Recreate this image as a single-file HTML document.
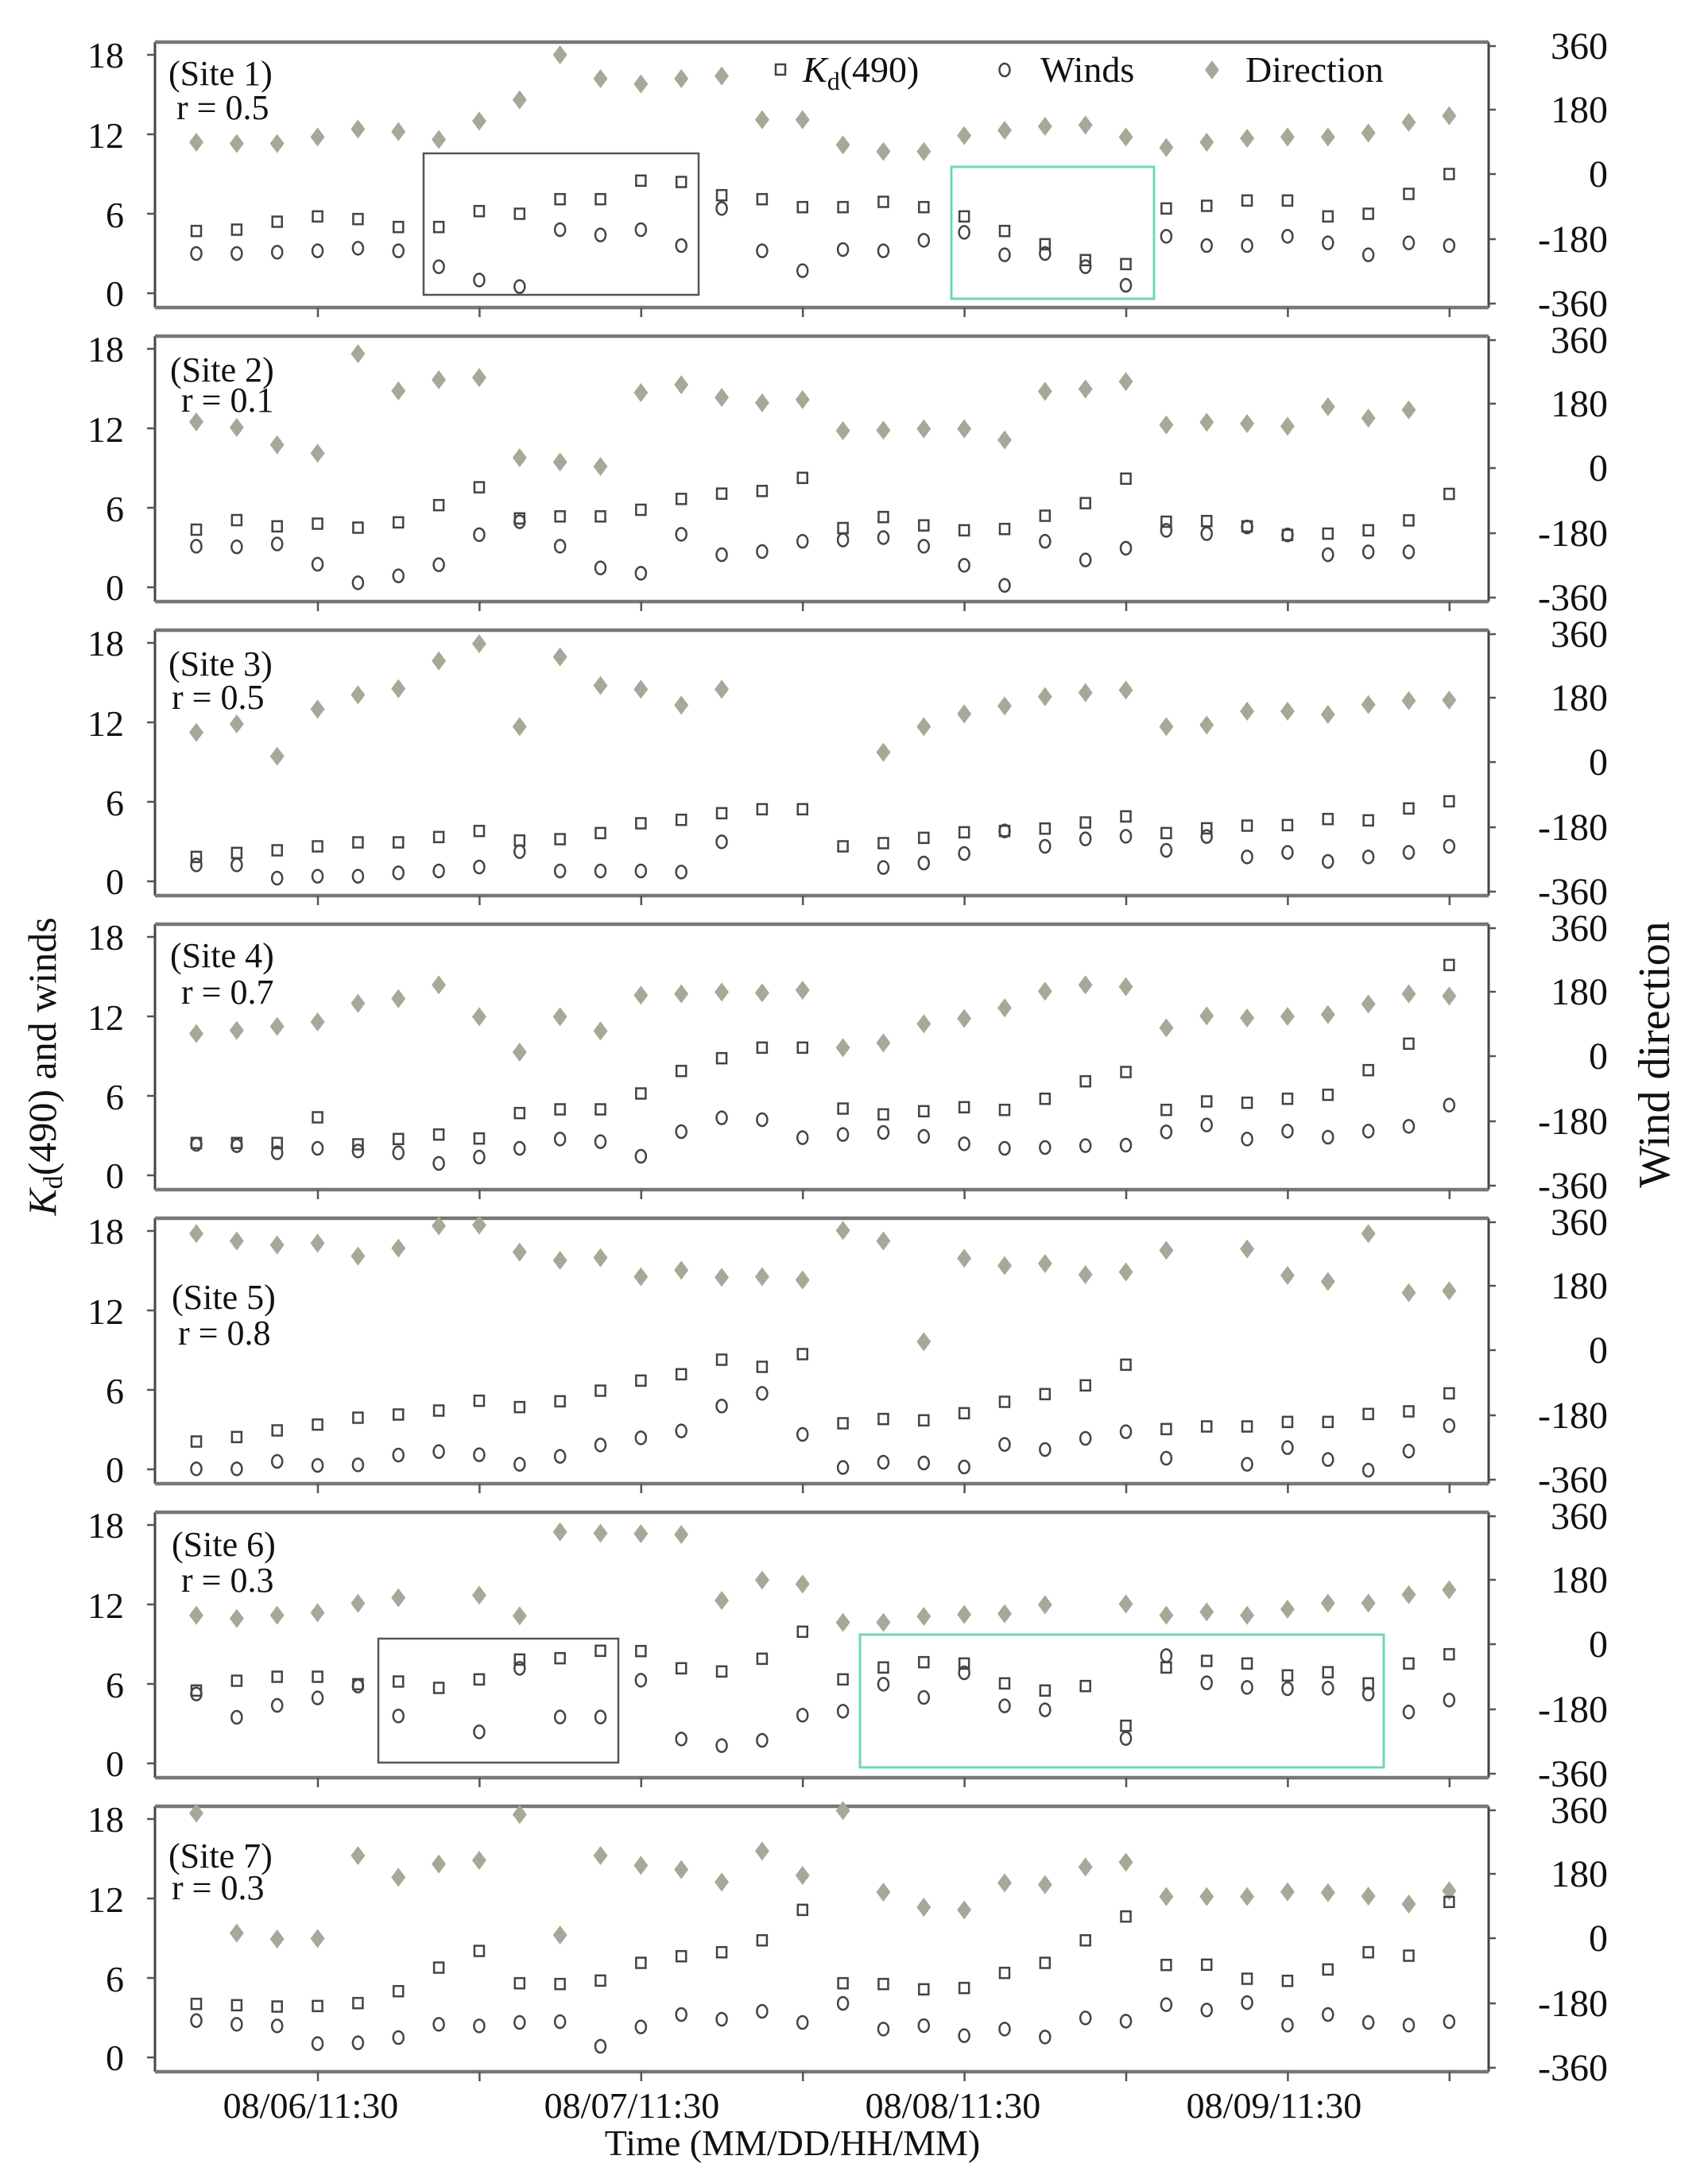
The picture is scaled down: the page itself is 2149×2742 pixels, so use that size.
<!DOCTYPE html>
<html><head><meta charset="utf-8"><style>
html,body{margin:0;padding:0;background:#fff;}
svg{display:block;}
text{font-family:"Liberation Serif",serif;fill:#111;}
</style></head><body>
<svg id="s" width="2149" height="2742" viewBox="0 0 2149 2742" xmlns="http://www.w3.org/2000/svg">
<rect width="2149" height="2742" fill="#fff"/>
<g stroke="#444" stroke-width="3" fill="none">
<path d="M195 53V387M1873 53V387M195 423V757M1873 423V757M195 793V1127M1873 793V1127M195 1163V1497M1873 1163V1497M195 1533V1867M1873 1533V1867M195 1903V2237M1873 1903V2237M195 2273V2607M1873 2273V2607"/>
</g>
<g stroke="#777" stroke-width="4.5" fill="none">
<path d="M195 53H1873M195 387H1873M195 423H1873M195 757H1873M195 793H1873M195 1127H1873M195 1163H1873M195 1497H1873M195 1533H1873M195 1867H1873M195 1903H1873M195 2237H1873M195 2273H1873M195 2607H1873"/>
</g>
<g id="frames"></g>
<g id="marks"></g>
<g font-size="46" text-anchor="end">
<text x="156" y="85">18</text><text x="156" y="186">12</text><text x="156" y="286">6</text><text x="156" y="385">0</text>
<text x="156" y="455">18</text><text x="156" y="556">12</text><text x="156" y="656">6</text><text x="156" y="755">0</text>
<text x="156" y="825">18</text><text x="156" y="926">12</text><text x="156" y="1026">6</text><text x="156" y="1125">0</text>
<text x="156" y="1195">18</text><text x="156" y="1296">12</text><text x="156" y="1396">6</text><text x="156" y="1495">0</text>
<text x="156" y="1565">18</text><text x="156" y="1666">12</text><text x="156" y="1766">6</text><text x="156" y="1865">0</text>
<text x="156" y="1935">18</text><text x="156" y="2036">12</text><text x="156" y="2136">6</text><text x="156" y="2235">0</text>
<text x="156" y="2305">18</text><text x="156" y="2406">12</text><text x="156" y="2506">6</text><text x="156" y="2605">0</text>
</g>
<g font-size="48" text-anchor="end">
<text x="2023" y="74">360</text><text x="2023" y="154">180</text><text x="2023" y="235">0</text><text x="2023" y="317">-180</text><text x="2023" y="398">-360</text>
<text x="2023" y="444">360</text><text x="2023" y="524">180</text><text x="2023" y="605">0</text><text x="2023" y="687">-180</text><text x="2023" y="768">-360</text>
<text x="2023" y="814">360</text><text x="2023" y="894">180</text><text x="2023" y="975">0</text><text x="2023" y="1057">-180</text><text x="2023" y="1138">-360</text>
<text x="2023" y="1184">360</text><text x="2023" y="1264">180</text><text x="2023" y="1345">0</text><text x="2023" y="1427">-180</text><text x="2023" y="1508">-360</text>
<text x="2023" y="1554">360</text><text x="2023" y="1634">180</text><text x="2023" y="1715">0</text><text x="2023" y="1797">-180</text><text x="2023" y="1878">-360</text>
<text x="2023" y="1924">360</text><text x="2023" y="2004">180</text><text x="2023" y="2085">0</text><text x="2023" y="2167">-180</text><text x="2023" y="2248">-360</text>
<text x="2023" y="2294">360</text><text x="2023" y="2374">180</text><text x="2023" y="2455">0</text><text x="2023" y="2537">-180</text><text x="2023" y="2618">-360</text>
</g>
<g font-size="44">
<text x="212" y="107">(Site 1)</text><text x="222" y="150">r = 0.5</text>
<text x="214" y="480">(Site 2)</text><text x="228" y="518">r = 0.1</text>
<text x="212" y="850">(Site 3)</text><text x="216" y="892">r = 0.5</text>
<text x="214" y="1217">(Site 4)</text><text x="228" y="1263">r = 0.7</text>
<text x="216" y="1647">(Site 5)</text><text x="224" y="1692">r = 0.8</text>
<text x="216" y="1958">(Site 6)</text><text x="228" y="2003">r = 0.3</text>
<text x="212" y="2350">(Site 7)</text><text x="216" y="2390">r = 0.3</text>
</g>
<g font-size="46">
<text x="1010" y="103"><tspan font-style="italic">K</tspan><tspan font-size="32" dy="10">d</tspan><tspan dy="-10">(490)</tspan></text>
<text x="1309" y="103">Winds</text>
<text x="1567" y="103">Direction</text>
</g>
<g font-size="46" text-anchor="middle">
<text x="391" y="2665">08/06/11:30</text>
<text x="795" y="2665">08/07/11:30</text>
<text x="1199" y="2665">08/08/11:30</text>
<text x="1603" y="2665">08/09/11:30</text>
<text x="997" y="2712">Time (MM/DD/HH/MM)</text>
</g>
<text font-size="50" text-anchor="middle" transform="translate(70,1342) rotate(-90)"><tspan font-style="italic">K</tspan><tspan font-size="34" dy="8">d</tspan><tspan dy="-8">(490) and winds</tspan></text>
<text font-size="56" text-anchor="middle" transform="translate(2100,1327) rotate(-90)">Wind direction</text>
</svg>
<script>
var N=null;
var D=[
{s:[4.7,4.8,5.4,5.8,5.6,5.0,5.0,6.2,6.0,7.1,7.1,8.5,8.4,7.4,7.1,6.5,6.5,6.9,6.5,5.8,4.7,3.7,2.5,2.2,6.4,6.6,7.0,7.0,5.8,6.0,7.5,9.0],
 c:[3.0,3.0,3.1,3.2,3.4,3.2,2.0,1.0,0.5,4.8,4.4,4.8,3.6,6.4,3.2,1.7,3.3,3.2,4.0,4.6,2.9,3.0,2.0,0.6,4.3,3.6,3.6,4.3,3.8,2.9,3.8,3.6],
 d:[11.4,11.3,11.3,11.8,12.4,12.2,11.6,13.0,14.6,18.0,16.2,15.8,16.2,16.4,13.1,13.1,11.2,10.7,10.7,11.9,12.3,12.6,12.7,11.8,11.0,11.4,11.7,11.8,11.8,12.1,12.9,13.4]},
{s:[4.35,5.07,4.6,4.8,4.5,4.9,6.2,7.55,5.2,5.35,5.35,5.85,6.67,7.07,7.27,8.26,4.47,5.3,4.67,4.3,4.4,5.4,6.35,8.2,4.95,5.0,4.6,3.95,4.05,4.3,5.05,7.05],
 c:[3.1,3.05,3.27,1.74,0.34,0.86,1.7,3.97,4.95,3.1,1.46,1.06,4.0,2.46,2.7,3.47,3.57,3.75,3.1,1.66,0.14,3.47,2.06,2.95,4.3,4.05,4.55,3.95,2.46,2.67,2.67,N],
 d:[12.49,12.06,10.76,10.12,17.63,14.83,15.67,15.83,9.78,9.46,9.12,14.69,15.29,14.33,13.93,14.17,11.82,11.86,11.96,11.96,11.12,14.79,14.97,15.53,12.26,12.46,12.36,12.16,13.63,12.77,13.39,N]},
{s:[1.84,2.14,2.34,2.64,2.94,2.94,3.34,3.8,3.08,3.18,3.64,4.38,4.64,5.14,5.44,5.44,2.64,2.88,3.28,3.7,3.8,3.98,4.44,4.9,3.64,4.0,4.2,4.24,4.7,4.6,5.5,6.04],
 c:[1.24,1.24,0.24,0.38,0.38,0.64,0.78,1.08,2.24,0.78,0.78,0.78,0.7,2.98,N,N,N,1.04,1.38,2.1,3.8,2.64,3.2,3.4,2.34,3.38,1.84,2.18,1.5,1.84,2.18,2.64],
 d:[11.24,11.88,9.44,13.0,14.08,14.54,16.64,17.94,11.68,16.94,14.78,14.5,13.3,14.5,N,N,N,9.74,11.68,12.64,13.24,13.94,14.24,14.44,11.68,11.8,12.84,12.84,12.6,13.34,13.64,13.68]},
{s:[2.44,2.44,2.44,4.38,2.34,2.74,3.08,2.78,4.7,4.98,4.98,6.18,7.88,8.84,9.64,9.64,5.04,4.6,4.84,5.14,4.94,5.78,7.1,7.8,4.94,5.58,5.48,5.78,6.08,7.94,9.94,15.88],
 c:[2.34,2.24,1.7,2.04,1.84,1.7,0.9,1.38,2.04,2.74,2.54,1.44,3.3,4.34,4.2,2.84,3.08,3.24,2.94,2.38,2.04,2.1,2.24,2.28,3.28,3.8,2.74,3.34,2.88,3.34,3.7,5.3],
 d:[10.7,10.94,11.24,11.58,12.98,13.34,14.38,11.98,9.3,11.98,10.9,13.6,13.7,13.84,13.78,13.98,9.64,10.0,11.44,11.84,12.64,13.9,14.38,14.24,11.14,12.04,11.88,12.0,12.14,12.94,13.7,13.54]},
{s:[2.1,2.44,2.94,3.38,3.9,4.14,4.44,5.18,4.7,5.14,5.94,6.7,7.18,8.28,7.74,8.7,3.48,3.8,3.7,4.24,5.1,5.68,6.34,7.9,3.04,3.24,3.24,3.58,3.58,4.18,4.38,5.74],
 c:[0.04,0.04,0.6,0.3,0.34,1.08,1.34,1.1,0.38,0.98,1.84,2.38,2.9,4.78,5.74,2.64,0.14,0.54,0.48,0.18,1.88,1.5,2.34,2.84,0.84,N,0.38,1.64,0.74,-0.06,1.38,3.3],
 d:[17.8,17.24,16.94,17.08,16.1,16.7,18.38,18.44,16.4,15.78,15.98,14.54,15.04,14.5,14.54,14.3,18.04,17.24,9.64,15.94,15.38,15.54,14.7,14.9,16.54,N,16.64,14.64,14.18,17.8,13.34,13.48]},
{s:[5.5,6.24,6.54,6.54,5.98,6.18,5.7,6.34,7.84,7.94,8.5,8.48,7.18,6.94,7.9,9.94,6.34,7.24,7.64,7.54,6.04,5.5,5.84,2.84,7.24,7.74,7.54,6.64,6.88,6.04,7.54,8.24],
 c:[5.24,3.48,4.38,4.94,5.84,3.58,N,2.38,7.18,3.5,3.5,6.28,1.84,1.34,1.74,3.64,3.94,5.98,4.98,6.84,4.34,4.04,N,1.88,8.14,6.08,5.74,5.64,5.68,5.24,3.88,4.78],
 d:[11.18,10.94,11.18,11.38,12.08,12.5,N,12.7,11.14,17.48,17.38,17.34,17.28,12.3,13.84,13.54,10.64,10.64,11.1,11.24,11.3,11.98,N,12.04,11.18,11.44,11.18,11.64,12.1,12.1,12.74,13.1]},
{s:[4.04,3.94,3.84,3.88,4.1,5.0,6.78,8.04,5.6,5.54,5.8,7.14,7.64,7.94,8.84,11.14,5.6,5.54,5.14,5.24,6.38,7.14,8.84,10.64,6.98,7.0,5.94,5.78,6.64,7.94,7.68,11.74],
 c:[2.78,2.5,2.38,1.04,1.1,1.5,2.5,2.38,2.64,2.7,0.84,2.3,3.24,2.88,3.48,2.64,4.08,2.14,2.4,1.64,2.14,1.54,2.98,2.74,3.98,3.58,4.14,2.44,3.24,2.64,2.44,2.7],
 d:[18.44,9.38,8.94,8.98,15.24,13.6,14.6,14.88,18.34,9.24,15.24,14.5,14.18,13.24,15.58,13.74,18.64,12.48,11.34,11.14,13.18,13.04,14.38,14.74,12.14,12.14,12.14,12.5,12.44,12.18,11.58,12.58]}
];
var NS="http://www.w3.org/2000/svg";
function el(g,t,a){var e=document.createElementNS(NS,t);for(var k in a)e.setAttribute(k,a[k]);g.appendChild(e);return e;}
var F=document.getElementById('frames'),M=document.getElementById('marks');
var L=195,R=1873;
for(var p=0;p<7;p++){
 var o=370*p, top=53+o, bot=387+o;
 [0,6,12,18].forEach(function(v){var y=369+o-v*16.667;el(F,'line',{x1:L-10,y1:y,x2:L,y2:y,stroke:'#555','stroke-width':2.5});});
 [58,138,219,301,382].forEach(function(y){el(F,'line',{x1:R,y1:y+o,x2:R+9,y2:y+o,stroke:'#555','stroke-width':2.5});});
 for(var k=0;k<8;k++){var x=400+203.4*k;el(F,'line',{x1:x,y1:bot,x2:x,y2:bot+12,stroke:'#555','stroke-width':2.5});}
 var d=D[p];
 for(var i=0;i<32;i++){
  var x=247+50.85*i;
  var Y=function(v){return 369+o-v*16.667;};
  if(d.d[i]!=null){var y=Y(d.d[i]);el(M,'polygon',{points:(x)+','+(y-12)+' '+(x+9)+','+y+' '+x+','+(y+12)+' '+(x-9)+','+y,fill:'#a8a898'});}
  if(d.c[i]!=null){el(M,'ellipse',{cx:x,cy:Y(d.c[i]),rx:6.5,ry:8,fill:'none',stroke:'#444','stroke-width':2.5});}
  if(d.s[i]!=null){var y2=Y(d.s[i]);el(M,'rect',{x:x-6,y:y2-6.5,width:12,height:13,fill:'none',stroke:'#444','stroke-width':2.5});}
 }
}
el(F,'rect',{x:533,y:193,width:346,height:178,fill:'none',stroke:'#555','stroke-width':2.5});
el(F,'rect',{x:1197,y:210,width:255,height:166,fill:'none',stroke:'#6dd9ad','stroke-width':3});
el(F,'rect',{x:476,y:2062,width:302,height:156,fill:'none',stroke:'#555','stroke-width':2.5});
el(F,'rect',{x:1082,y:2057,width:659,height:167,fill:'none',stroke:'#6dd9ad','stroke-width':3});
el(M,'rect',{x:976,y:81,width:12,height:13,fill:'none',stroke:'#444','stroke-width':2.5});
el(M,'ellipse',{cx:1264,cy:88,rx:6.5,ry:8,fill:'none',stroke:'#444','stroke-width':2.5});
el(M,'polygon',{points:'1525,76 1534,88 1525,100 1516,88',fill:'#a8a898'});
</script>
</body></html>
